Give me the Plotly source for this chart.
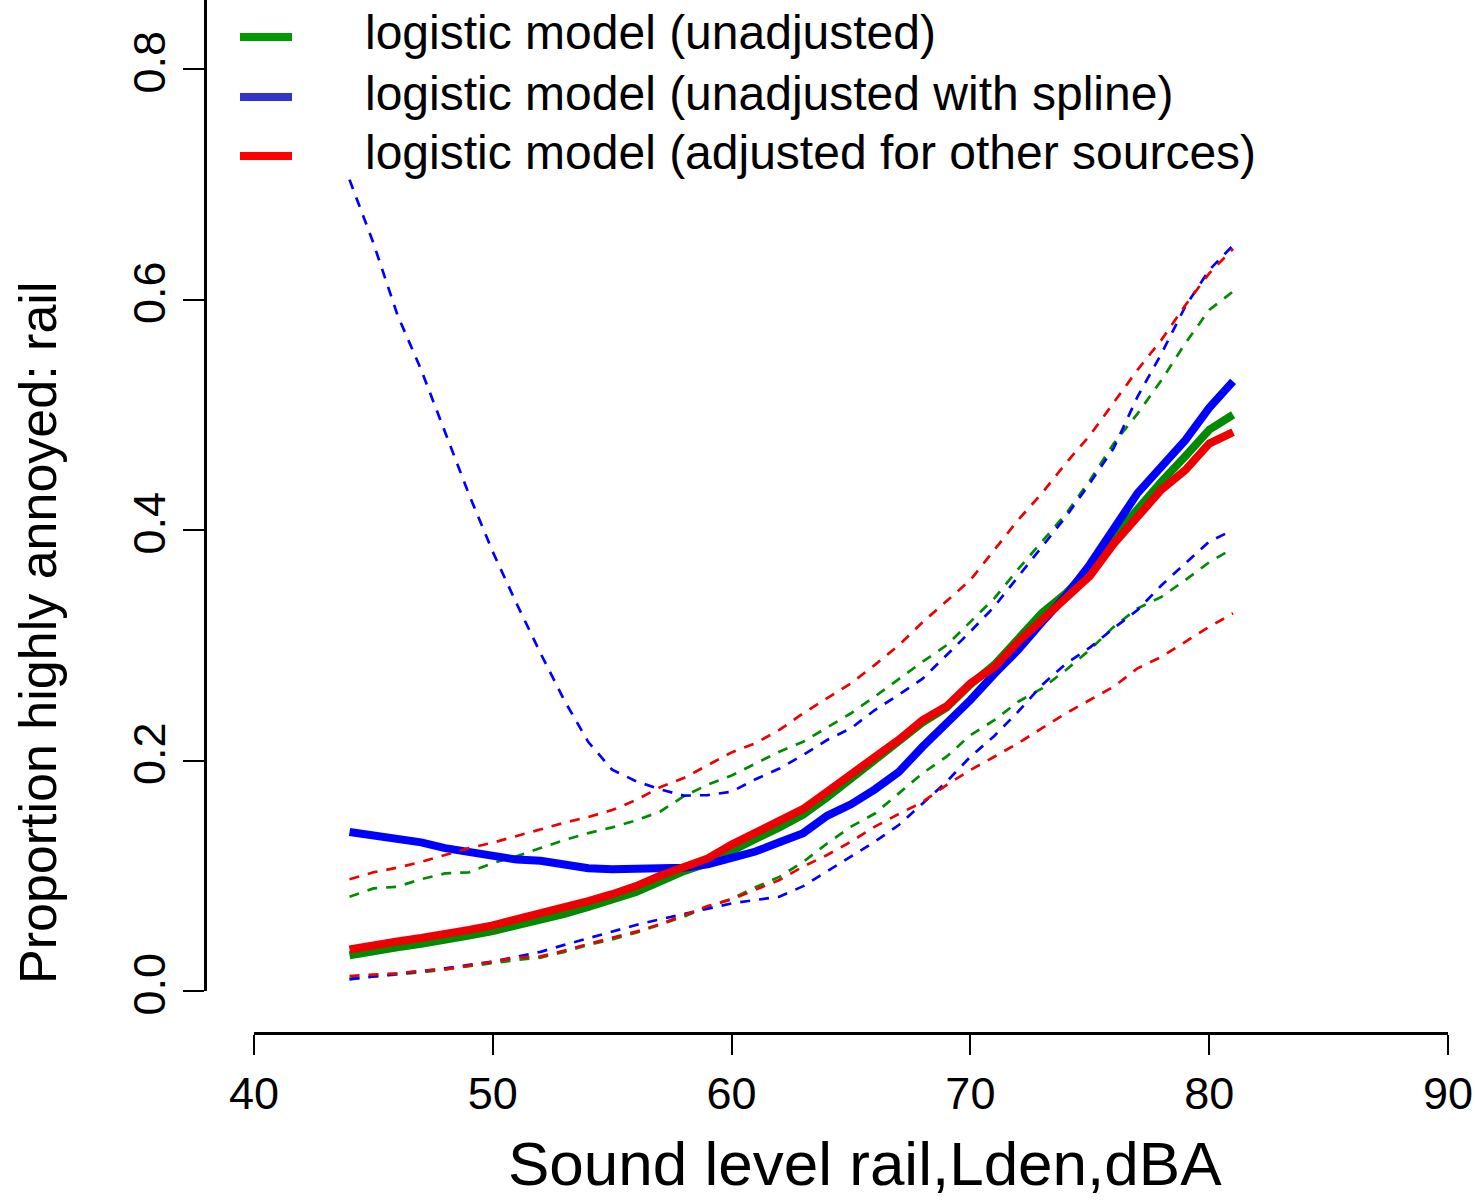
import plotly.graph_objects as go

# ---------------- data ----------------
sound_level = [44, 45, 46, 47, 48, 49, 50, 51, 52, 53, 54, 55, 56, 57, 58, 59, 60, 61, 62,
               63, 64, 65, 66, 67, 68, 69, 70, 71, 72, 73, 74, 75, 76, 77, 78, 79, 80, 81]

unadj_fit = [0.031, 0.035, 0.038, 0.041, 0.044, 0.048, 0.052, 0.057, 0.061, 0.067, 0.073, 0.079,
             0.086, 0.095, 0.104, 0.111, 0.122, 0.132, 0.142, 0.153, 0.168, 0.184, 0.200, 0.215,
             0.233, 0.246, 0.266, 0.283, 0.305, 0.328, 0.345, 0.366, 0.394, 0.419, 0.442, 0.464,
             0.487, 0.500]
unadj_lo = [0.0107, 0.0124, 0.0139, 0.0162, 0.0188, 0.0217, 0.024, 0.0269, 0.029, 0.034, 0.040,
            0.0448, 0.0506, 0.0578, 0.0645, 0.073, 0.080, 0.090, 0.099, 0.112, 0.128, 0.1426,
            0.154, 0.1715, 0.189, 0.2033, 0.222, 0.235, 0.251, 0.2626, 0.2785, 0.296, 0.316,
            0.332, 0.342, 0.3566, 0.372, 0.384]
unadj_hi = [0.0818, 0.089, 0.0905, 0.097, 0.102, 0.103, 0.111, 0.117, 0.124, 0.131, 0.137, 0.142,
            0.148, 0.1556, 0.169, 0.179, 0.187, 0.1975, 0.2077, 0.2163, 0.229, 0.241, 0.2555,
            0.271, 0.2857, 0.300, 0.320, 0.3407, 0.366, 0.390, 0.414, 0.443, 0.475, 0.501, 0.530,
            0.562, 0.591, 0.607]

spline_fit = [0.138, 0.135, 0.131, 0.129, 0.124, 0.121, 0.118, 0.114, 0.113, 0.109, 0.1065,
              0.1056, 0.1056, 0.1056, 0.107, 0.110, 0.116, 0.121, 0.129, 0.137, 0.152, 0.162,
              0.175, 0.190, 0.212, 0.232, 0.2525, 0.275, 0.296, 0.320, 0.343, 0.370, 0.400,
              0.432, 0.455, 0.478, 0.506, 0.529]
spline_lo = [0.0101, 0.0124, 0.0145, 0.017, 0.0197, 0.0226, 0.0255, 0.0298, 0.034, 0.040, 0.0457,
             0.0515, 0.0573, 0.0622, 0.0668, 0.071, 0.076, 0.079, 0.0818, 0.091, 0.104, 0.117,
             0.1296, 0.144, 0.163, 0.1816, 0.2033, 0.2213, 0.2424, 0.2655, 0.284, 0.298, 0.3147,
             0.3306, 0.352, 0.371, 0.390, 0.400]
spline_hi = [0.704, 0.649, 0.587, 0.539, 0.485, 0.431, 0.381, 0.336, 0.293, 0.252, 0.216, 0.192,
             0.182, 0.175, 0.1695, 0.170, 0.173, 0.1837, 0.193, 0.2048, 0.2178, 0.228, 0.2438,
             0.257, 0.271, 0.2915, 0.3118, 0.3335, 0.3595, 0.3855, 0.4116, 0.4405, 0.471, 0.5157,
             0.553, 0.594, 0.6256, 0.647]

adj_fit = [0.036, 0.040, 0.043, 0.046, 0.049, 0.053, 0.057, 0.062, 0.067, 0.072, 0.078, 0.084,
           0.091, 0.100, 0.108, 0.115, 0.127, 0.137, 0.147, 0.158, 0.173, 0.189, 0.203, 0.218,
           0.235, 0.247, 0.267, 0.281, 0.303, 0.322, 0.340, 0.360, 0.388, 0.412, 0.435, 0.452,
           0.475, 0.485]
adj_lo = [0.013, 0.0139, 0.0153, 0.0176, 0.0188, 0.022, 0.0255, 0.029, 0.030, 0.035, 0.0408,
          0.046, 0.0515, 0.058, 0.066, 0.0737, 0.0795, 0.0876, 0.0963, 0.108, 0.118, 0.1296,
          0.1426, 0.1536, 0.164, 0.1787, 0.1918, 0.2033, 0.215, 0.228, 0.241, 0.2525, 0.264,
          0.280, 0.290, 0.303, 0.316, 0.3277]
adj_hi = [0.097, 0.103, 0.107, 0.112, 0.118, 0.124, 0.1287, 0.1345, 0.140, 0.146, 0.151, 0.157,
          0.1657, 0.1767, 0.1848, 0.196, 0.207, 0.215, 0.2265, 0.241, 0.254, 0.267, 0.283, 0.300,
          0.320, 0.338, 0.3566, 0.3827, 0.4087, 0.432, 0.458, 0.482, 0.510, 0.539, 0.565, 0.595,
          0.6227, 0.644]

legend_labels = ["logistic model (unadjusted)",
                 "logistic model (unadjusted with spline)",
                 "logistic model (adjusted for other sources)"]

x_ticks = [40, 50, 60, 70, 80, 90]
y_ticks = [0.0, 0.2, 0.4, 0.6, 0.8]
y_tick_text = ["0.0", "0.2", "0.4", "0.6", "0.8"]

x_title = "Sound level rail,Lden,dBA"
y_title = "Proportion highly annoyed: rail"

# ---------------- styling ----------------
W, H = 1475, 1200
FONT = "Liberation Sans, Arial, Helvetica, sans-serif"
GREEN, BLUE, RED = "#008B00", "#0000FF", "#EE0000"
LEG_COLORS = ["#009900", "#3333CC", "#FF0000"]

fig = go.Figure()

groups = [
    (unadj_fit, unadj_lo, unadj_hi, GREEN, legend_labels[0]),
    (spline_fit, spline_lo, spline_hi, BLUE, legend_labels[1]),
    (adj_fit, adj_lo, adj_hi, RED, legend_labels[2]),
]
for fit, lo, hi, col, name in groups:
    fig.add_trace(go.Scatter(x=sound_level, y=fit, mode="lines", name=name,
                             line=dict(color=col, width=8), showlegend=False))
    fig.add_trace(go.Scatter(x=sound_level, y=lo, mode="lines", name=name + " lower",
                             line=dict(color=col, width=2.7, dash="10px,9px"), showlegend=False))
    fig.add_trace(go.Scatter(x=sound_level, y=hi, mode="lines", name=name + " upper",
                             line=dict(color=col, width=2.7, dash="10px,9px"), showlegend=False))

# pixel geometry of the reference
x_left_px, x_right_px = 254, 1448      # x = 40 .. 90
y_zero_px, px_per_unit = 991, 1152.5  # y = 0 at 991 px
xaxis_line_px = 1033
yaxis_line_px = 205

fig.update_layout(
    width=W, height=H,
    margin=dict(l=0, r=0, t=0, b=0, autoexpand=False),
    paper_bgcolor="white", plot_bgcolor="white",
    font=dict(family=FONT, color="black"),
    xaxis=dict(
        domain=[x_left_px / W, x_right_px / W], range=[40, 90],
        anchor="free", position=1 - xaxis_line_px / H, automargin=False,
        showline=True, linecolor="black", linewidth=2.5,
        ticks="outside", ticklen=20, tickwidth=2, tickcolor="black",
        tickvals=x_ticks, tickfont=dict(size=45, family=FONT, color="black"),
        showgrid=False, zeroline=False,
    ),
    yaxis=dict(
        domain=[1 - y_zero_px / H, 1], range=[0, y_zero_px / px_per_unit],
        anchor="free", position=yaxis_line_px / W, automargin=False,
        showline=True, linecolor="black", linewidth=2.5,
        ticks="outside", ticklen=21, tickwidth=2, tickcolor="black",
        tickvals=y_ticks, ticktext=y_tick_text, tickangle=-90,
        tickfont=dict(size=45, family=FONT, color="black"),
        showgrid=False, zeroline=False,
    ),
)

annotations = [
    dict(text=x_title, x=865 / W, y=1 - 1163 / H, xref="paper", yref="paper",
         xanchor="center", yanchor="middle", showarrow=False,
         font=dict(size=62, family=FONT, color="black")),
    dict(text=y_title, x=38 / W, y=1 - 633 / H, xref="paper", yref="paper",
         xanchor="center", yanchor="middle", showarrow=False, textangle=-90,
         font=dict(size=52, family=FONT, color="black")),
]
shapes = []
legend_line_y = [37, 97, 156]
legend_text_y = [33, 93, 152]
for lab, col, ly, ty in zip(legend_labels, LEG_COLORS, legend_line_y, legend_text_y):
    shapes.append(dict(type="line", xref="paper", yref="paper",
                       x0=240 / W, x1=292 / W, y0=1 - ly / H, y1=1 - ly / H,
                       line=dict(color=col, width=8)))
    annotations.append(dict(text=lab, x=363 / W, y=1 - ty / H, xref="paper", yref="paper",
                            xanchor="left", yanchor="middle", showarrow=False,
                            font=dict(size=48, family=FONT, color="black")))

fig.update_layout(annotations=annotations, shapes=shapes)

fig.write_html("out.html")
